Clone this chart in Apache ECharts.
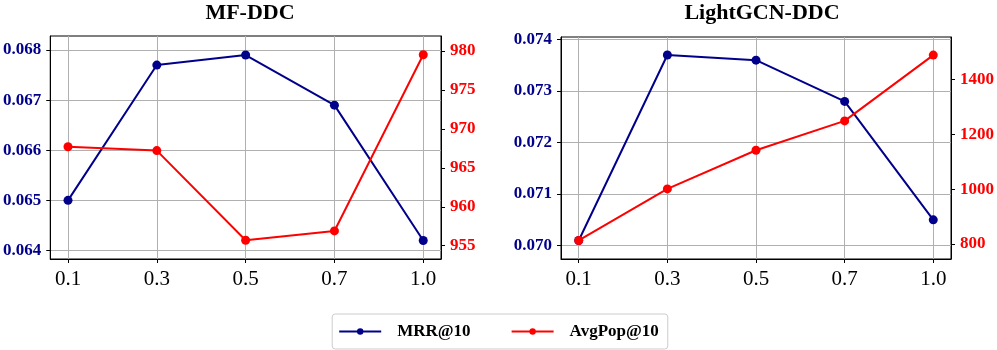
<!DOCTYPE html>
<html>
<head>
<meta charset="utf-8">
<script src="https://cdn.jsdelivr.net/npm/echarts@6/dist/echarts.min.js"></script>
<style>
  html, body { margin: 0; padding: 0; background: #fff; }
  #chart { width: 997px; height: 350px; }
</style>
</head>
<body>
<div id="chart"></div>
<script>
// x 轴刻度
const xLabels = ['0.1', '0.3', '0.5', '0.7', '1.0'];

// MF-DDC
const mfMrr = [0.0650, 0.0677, 0.0679, 0.0669, 0.0642];
const mfPop = [967.7, 967.2, 955.7, 956.9, 979.5];
const mfMrrTicks = [0.064, 0.065, 0.066, 0.067, 0.068];
const mfPopTicks = [955, 960, 965, 970, 975, 980];

// LightGCN-DDC
const lgMrr = [0.0701, 0.0737, 0.0736, 0.0728, 0.0705];
const lgPop = [813, 1001, 1142, 1249, 1489];
const lgMrrTicks = [0.070, 0.071, 0.072, 0.073, 0.074];
const lgPopTicks = [800, 1000, 1200, 1400];

const titles = ['MF-DDC', 'LightGCN-DDC'];
const BLUE = '#00008B';
const RED = '#FF0000';
const SERIF = '"Liberation Serif", "DejaVu Serif", serif';
const xIdx = xLabels.map((_, i) => i);

const chart = echarts.init(document.getElementById('chart'));

function yAxisDef(gridIndex, pos, ticks, min, max, color, digits, grid) {
  return {
    type: 'value',
    gridIndex,
    position: pos,
    min, max,
    axisLine: { show: true, onZero: false, lineStyle: { color: '#000', width: 1 } },
    axisTick: { show: true, inside: false, length: 4, customValues: ticks, lineStyle: { color: '#000' } },
    axisLabel: {
      customValues: ticks,
      margin: 9,
      color,
      fontFamily: SERIF,
      fontWeight: 'bold',
      fontSize: 17,
      formatter: v => Number(v).toFixed(digits),
    },
    splitLine: { show: grid, lineStyle: { color: '#b0b0b0', width: 1 } },
  };
}

function xAxisDef(gridIndex) {
  return {
    type: 'value',
    gridIndex,
    min: -0.2,
    max: 4.2,
    axisLine: { show: true, onZero: false, lineStyle: { color: '#000', width: 1 } },
    axisTick: { show: true, length: 4, customValues: xIdx, lineStyle: { color: '#000' } },
    axisLabel: {
      customValues: xIdx,
      margin: 10,
      color: '#000',
      fontFamily: SERIF,
      fontSize: 21,
      formatter: v => xLabels[Math.round(v)],
    },
    splitLine: { show: true, lineStyle: { color: '#b0b0b0', width: 1 } },
  };
}

function lineSeries(name, vals, xi, yi, color) {
  return {
    name,
    type: 'line',
    xAxisIndex: xi,
    yAxisIndex: yi,
    data: vals.map((v, i) => [i, v]),
    symbol: 'circle',
    symbolSize: 9,
    lineStyle: { color, width: 2 },
    itemStyle: { color },
    z: yi % 2 === 0 ? 3 : 4,
  };
}

chart.setOption({
  animation: false,
  title: [
    { text: titles[0], left: 245, top: -3, textAlign: 'center',
      textStyle: { fontFamily: SERIF, fontWeight: 'bold', fontSize: 22, color: '#000' } },
    { text: titles[1], left: 757, top: -3, textAlign: 'center',
      textStyle: { fontFamily: SERIF, fontWeight: 'bold', fontSize: 22, color: '#000' } },
  ],
  legend: {
    data: ['MRR@10', 'AvgPop@10'],
    left: 'center',
    top: 314,
    padding: [9, 9, 9, 6],
    itemWidth: 42,
    itemHeight: 8,
    itemGap: 40,
    borderColor: '#ccc',
    borderWidth: 1,
    borderRadius: 3,
    textStyle: { fontFamily: SERIF, fontWeight: 'bold', fontSize: 17, color: '#000', padding: [0, 0, 0, 11] },
  },
  grid: [
    { left: 48, right: 556, top: 36, bottom: 91, show: true, borderColor: '#000', borderWidth: 1, backgroundColor: 'transparent' },
    { left: 561, right: 44, top: 37, bottom: 91, show: true, borderColor: '#000', borderWidth: 1, backgroundColor: 'transparent' },
  ],
  xAxis: [xAxisDef(0), xAxisDef(1)],
  yAxis: [
    yAxisDef(0, 'left', mfMrrTicks, 0.06383, 0.06828, BLUE, 3, true),
    yAxisDef(0, 'right', mfPopTicks, 953.3, 981.9, RED, 0, false),
    yAxisDef(1, 'left', lgMrrTicks, 0.06974, 0.07405, BLUE, 3, true),
    yAxisDef(1, 'right', lgPopTicks, 745.5, 1555, RED, 0, false),
  ],
  series: [
    lineSeries('MRR@10', mfMrr, 0, 0, BLUE),
    lineSeries('AvgPop@10', mfPop, 0, 1, RED),
    lineSeries('MRR@10', lgMrr, 1, 2, BLUE),
    lineSeries('AvgPop@10', lgPop, 1, 3, RED),
  ],
});
</script>
</body>
</html>
